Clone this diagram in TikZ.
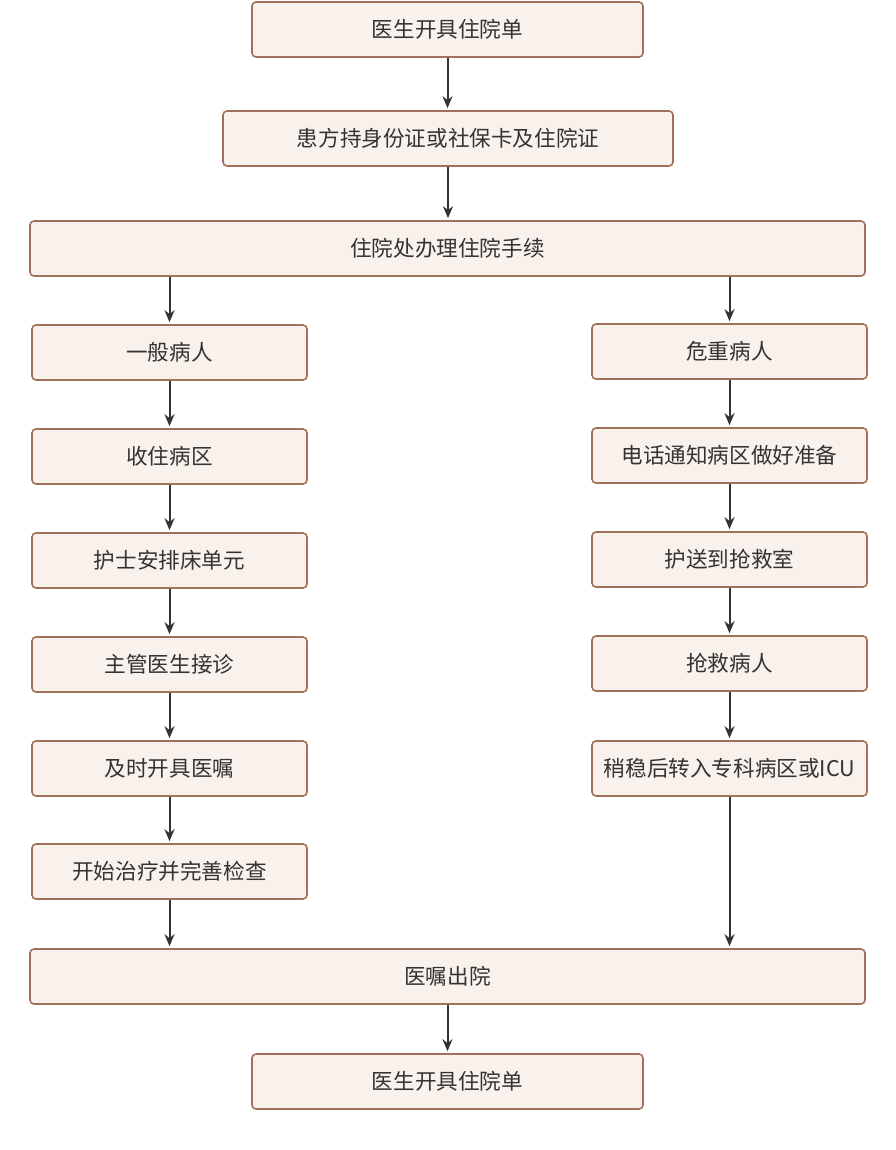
\documentclass[tikz,border=0pt]{standalone}
\usepackage{fontspec}
\setmainfont{Noto Sans CJK SC}
\usetikzlibrary{shapes,arrows.meta}
\definecolor{boxline}{HTML}{A0705A}
\definecolor{boxfill}{HTML}{F8F1EC}
\definecolor{ink}{HTML}{333333}

\begin{document}
\begin{tikzpicture}[x=1pt,y=-1pt,
  stepbox/.style={shape=rectangle,draw=boxline,fill=boxfill,rounded corners=4pt,line width=1.6pt,align=center,inner sep=0pt,minimum height=55pt,text=ink,font=\fontsize{21.6}{25}\selectfont},
  flow/.style={-{Stealth[length=12pt,width=10pt]},draw=ink,line width=2pt,shorten >=2pt}]
\useasboundingbox (0,0) rectangle (895,1150);
\node[stepbox,minimum width=391pt] (0) at (447.5,29.5) {医生开具住院单};
\node[stepbox,minimum width=450pt] (1) at (448,138.5) {患方持身份证或社保卡及住院证};
\node[stepbox,minimum width=835pt] (2) at (447.5,248.5) {住院处办理住院手续};
\node[stepbox,minimum width=275pt] (3) at (169.5,352.5) {一般病人};
\node[stepbox,minimum width=275pt] (4) at (169.5,456.5) {收住病区};
\node[stepbox,minimum width=275pt] (5) at (169.5,560.5) {护士安排床单元};
\node[stepbox,minimum width=275pt] (6) at (169.5,664.5) {主管医生接诊};
\node[stepbox,minimum width=275pt] (7) at (169.5,768.5) {及时开具医嘱};
\node[stepbox,minimum width=275pt] (8) at (169.5,871.5) {开始治疗并完善检查};
\node[stepbox,minimum width=275pt] (9) at (729.5,351.5) {危重病人};
\node[stepbox,minimum width=275pt] (10) at (729.5,455.5) {电话通知病区做好准备};
\node[stepbox,minimum width=275pt] (11) at (729.5,559.5) {护送到抢救室};
\node[stepbox,minimum width=275pt] (12) at (729.5,663.5) {抢救病人};
\node[stepbox,minimum width=275pt] (13) at (729.5,768.5) {稍稳后转入专科病区或ICU};
\node[stepbox,minimum width=835pt] (14) at (447.5,976.5) {医嘱出院};
\node[stepbox,minimum width=391pt] (15) at (447.5,1081.5) {医生开具住院单};

\draw [flow] (0.south) -- (0.south |- 1.north);
\draw [flow] (1.south) -- (1.south |- 2.north);
\draw [flow] (2.south -| 3.north) -- (3.north);
\draw [flow] (2.south -| 9.north) -- (9.north);
\draw [flow] (3.south) -- (4.north);
\draw [flow] (4.south) -- (5.north);
\draw [flow] (5.south) -- (6.north);
\draw [flow] (6.south) -- (7.north);
\draw [flow] (7.south) -- (8.north);
\draw [flow] (9.south) -- (10.north);
\draw [flow] (10.south) -- (11.north);
\draw [flow] (11.south) -- (12.north);
\draw [flow] (12.south) -- (13.north);
\draw [flow] (8.south) -- (8.south |- 14.north);
\draw [flow] (13.south) -- (13.south |- 14.north);
\draw [flow] (14.south) -- (14.south |- 15.north);
\end{tikzpicture}
\end{document}
